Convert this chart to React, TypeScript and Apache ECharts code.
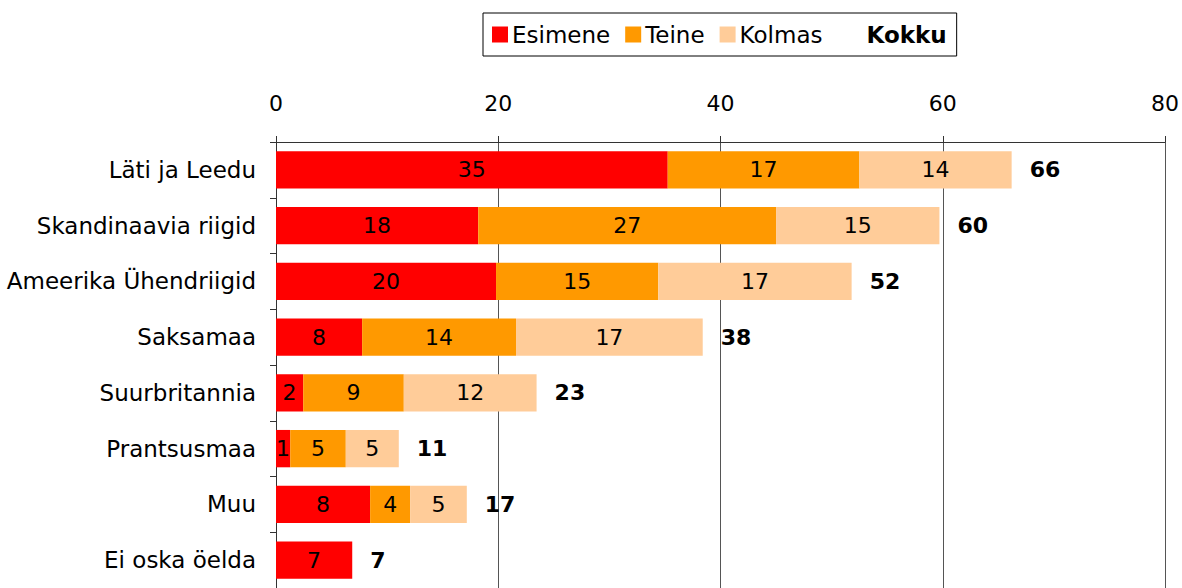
import React, { useEffect, useRef } from "react";
import * as echarts from "echarts";

const categories = [
  "Läti ja Leedu",
  "Skandinaavia riigid",
  "Ameerika Ühendriigid",
  "Saksamaa",
  "Suurbritannia",
  "Prantsusmaa",
  "Muu",
  "Ei oska öelda",
];
const esimene = [35.25, 18.2, 19.8, 7.75, 2.45, 1.28, 8.47, 6.86];
const teine = [17.25, 26.8, 14.6, 13.85, 9.05, 5.0, 3.6, 0];
const kolmas = [13.7, 14.7, 17.4, 16.8, 11.95, 4.77, 5.1, 0];
const kokku = [66, 60, 52, 38, 23, 11, 17, 7];
const xTicks = [0, 20, 40, 60, 80];

const FONT = "'DejaVu Sans', sans-serif";
const FS = 23;

export default function App() {
  const ref = useRef<HTMLDivElement>(null);
  useEffect(() => {
    document.body.style.margin = "0";
    if (!ref.current) return;
    const chart = echarts.init(ref.current, null, { renderer: "svg" });
    const segLabel = {
      show: true,
      position: "inside",
      color: "#000",
      fontSize: 22,
      fontFamily: FONT,
      formatter: (p: any) => (p.value > 0 ? String(Math.round(p.value)) : ""),
    };
    chart.setOption({
      animation: false,
      textStyle: { fontFamily: FONT },
      legend: {
        left: 483,
        top: 13,
        padding: [10, 10, 10, 9],
        borderColor: "#000",
        borderWidth: 1,
        itemWidth: 16,
        itemHeight: 16,
        itemGap: 15,
        textStyle: { fontSize: FS, color: "#000", fontFamily: FONT, padding: [0, 0, 0, -1] },
        data: [
          { name: "Esimene", icon: "rect" },
          { name: "Teine", icon: "rect" },
          { name: "Kolmas", icon: "rect" },
          { name: "Kokku", icon: "none", textStyle: { fontWeight: "bold", padding: [0, 0, 0, 8] } },
        ],
      },
      grid: { left: 276, top: 142, width: 890, height: 454 },
      xAxis: {
        type: "value",
        position: "top",
        min: xTicks[0],
        max: xTicks[xTicks.length - 1],
        interval: 20,
        axisLine: { show: true, lineStyle: { color: "#333", width: 1 } },
        axisTick: { show: true, length: 6, lineStyle: { color: "#333" } },
        axisLabel: { fontSize: 22, color: "#000", margin: 28, fontFamily: FONT },
        splitLine: { show: true, lineStyle: { color: "#555", width: 1 } },
      },
      yAxis: {
        type: "category",
        inverse: true,
        data: categories,
        axisLine: { show: true, lineStyle: { color: "#333", width: 1 } },
        axisTick: { show: true, length: 6, lineStyle: { color: "#333" } },
        axisLabel: { fontSize: FS, color: "#000", margin: 20, fontFamily: FONT },
        splitLine: { show: false },
      },
      series: [
        {
          name: "Esimene",
          type: "bar",
          stack: "s",
          data: esimene,
          barCategoryGap: "33%",
          itemStyle: { color: "#FF0000" },
          label: segLabel,
        },
        {
          name: "Teine",
          type: "bar",
          stack: "s",
          data: teine,
          itemStyle: { color: "#FF9900" },
          label: segLabel,
        },
        {
          name: "Kolmas",
          type: "bar",
          stack: "s",
          data: kolmas,
          itemStyle: { color: "#FFCC99" },
          label: segLabel,
        },
        {
          name: "Kokku",
          type: "bar",
          stack: "s",
          data: kokku.map(() => 0),
          itemStyle: { color: "rgba(0,0,0,0)" },
          label: {
            show: true,
            position: "right",
            distance: 18,
            color: "#000",
            fontSize: 22,
            fontWeight: "bold",
            fontFamily: FONT,
            formatter: (p: any) => String(kokku[p.dataIndex]),
          },
        },
      ],
    });
    return () => chart.dispose();
  }, []);
  return <div ref={ref} style={{ width: 1182, height: 588 }} />;
}
